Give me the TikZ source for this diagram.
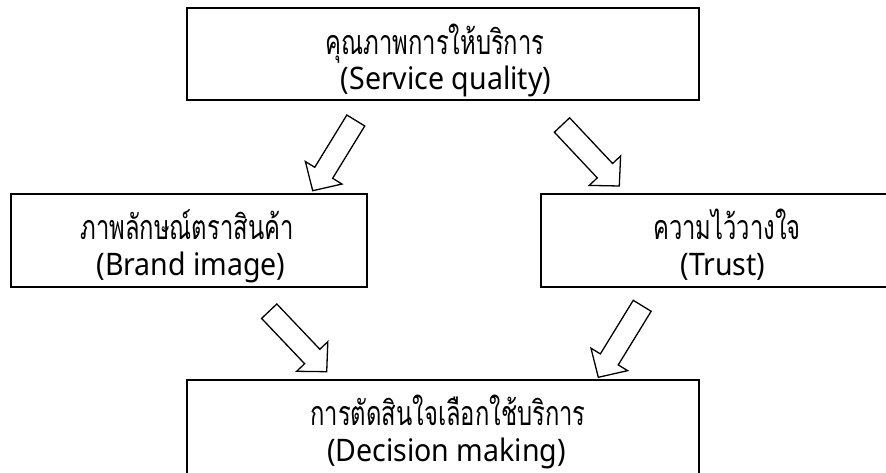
\documentclass[tikz,border=0pt]{standalone}
\usepackage{fontspec}
\setmainfont{Noto Sans}[FakeStretch=0.92]
\newfontfamily\thaifont[Script=Thai, FakeStretch=0.70]{Loma}
\usetikzlibrary{calc}

\tikzset{
  framebox/.style={draw=black, line width=1.1pt, inner sep=0pt, outer sep=0pt},
  thailine/.style={font=\thaifont\fontsize{34}{40}\selectfont, anchor=base, inner sep=0pt},
  engline/.style={font=\fontsize{31}{37}\selectfont, anchor=base, inner sep=0pt},
  blockarrow/.style={draw=black, line width=1.3pt, line join=miter, fill=white},
}

% hollow block arrow from tail centre #1 to tip #2
\newcommand\hollowarrow[2]{%
  \coordinate (neck) at ($(#2)!21pt!(#1)$);
  \draw[blockarrow]
    ($(#1)!10.5pt!90:(#2)$) -- ($(neck)!10.5pt!90:(#2)$) --
    ($(neck)!21.5pt!90:(#2)$) -- (#2) --
    ($(neck)!21.5pt!-90:(#2)$) -- ($(neck)!10.5pt!-90:(#2)$) --
    ($(#1)!10.5pt!-90:(#2)$) -- cycle;
}

\begin{document}
\begin{tikzpicture}[x=1pt, y=-1pt]
  \useasboundingbox (0,0) rectangle (886,473);
  \clip (0,0) rectangle (886,473);
  \fill[white] (0,0) rectangle (886,473);

  % boxes
  \node[framebox, minimum width=512pt, minimum height=92pt] (top) at (443,54) {};
  \node[framebox, minimum width=356pt, minimum height=93pt] (left) at (189,240.5) {};
  \node[framebox, minimum width=362pt, minimum height=93pt] (right) at (722,240.5) {};
  \node[framebox, minimum width=512pt, minimum height=100pt] (bottom) at (443,430) {};

  % labels
  \node[thailine] (topth) at (435,55) {คุณภาพการให้บริการ};
  \node[engline] (topen) at (446,90) {(Service quality)};
  \node[thailine] (leftth) at (187,240) {ภาพลักษณ์ตราสินค้า};
  \node[engline] (leften) at (191,275) {(Brand image)};
  \node[thailine] (rightth) at (727,240) {ความไว้วางใจ};
  \node[engline] (righten) at (723,275) {(Trust)};
  \node[thailine] (bottomth) at (448,425) {การตัดสินใจเลือกใช้บริการ};
  \node[engline] (bottomen) at (446.5,461) {(Decision making)};

  % arrow ends
  \coordinate (a1s) at (355.8,120.5);
  \coordinate (a1e) at (312.7,190.7);
  \coordinate (a2s) at (562,125);
  \coordinate (a2e) at (619.3,186);
  \coordinate (a3s) at (269.2,311.2);
  \coordinate (a3e) at (326.7,371.7);
  \coordinate (a4s) at (642.2,305.8);
  \coordinate (a4e) at (598.3,377.3);

  \hollowarrow{a1s}{a1e}
  \hollowarrow{a2s}{a2e}
  \hollowarrow{a3s}{a3e}
  \hollowarrow{a4s}{a4e}
\end{tikzpicture}
\end{document}
